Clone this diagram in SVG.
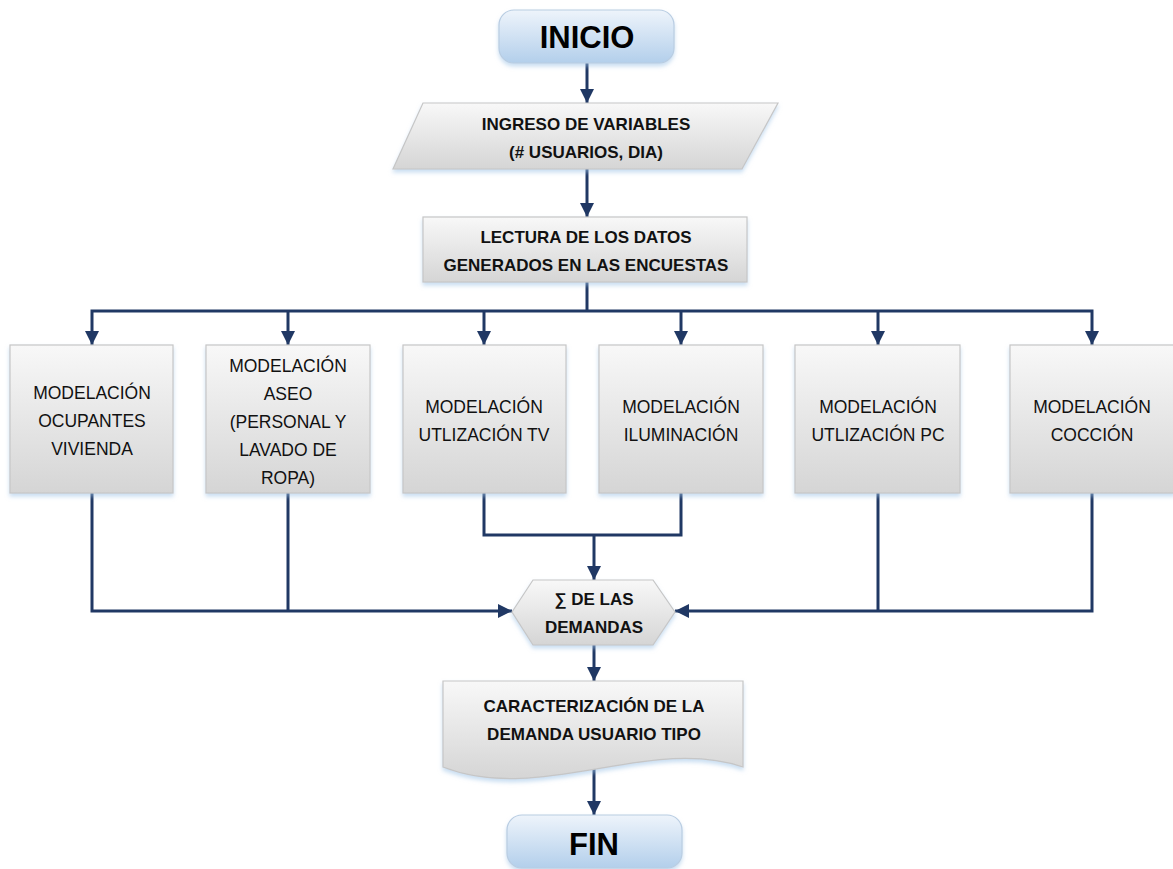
<svg xmlns="http://www.w3.org/2000/svg" width="1173" height="869" viewBox="0 0 1173 869">
  <style>
    .grey { fill: url(#gGrey); stroke: #c6c6c6; stroke-width: 1.2; filter: url(#shadow); }
    .term { fill: url(#gBlue); stroke: #b9cde2; stroke-width: 1.2; filter: url(#shadow); }
    .bold { font-family: "Liberation Sans", Arial, sans-serif; font-weight: bold; font-size: 17px; fill: #111; text-anchor: middle; }
    .reg { font-family: "Liberation Sans", Arial, sans-serif; font-size: 17.5px; fill: #111; text-anchor: middle; }
    .big { font-family: "Liberation Sans", Arial, sans-serif; font-weight: bold; font-size: 31px; fill: #000; text-anchor: middle; }
    .conn path { fill: none; stroke: #203864; stroke-width: 3; stroke-linejoin: miter; }
    .arr { marker-end: url(#head); }
  </style>
  <defs>
    <linearGradient id="gGrey" x1="0" y1="0" x2="0" y2="1">
      <stop offset="0" stop-color="#f8f8f8"/>
      <stop offset="1" stop-color="#d5d5d5"/>
    </linearGradient>
    <linearGradient id="gBlue" x1="0" y1="0" x2="0" y2="1">
      <stop offset="0" stop-color="#eef4fb"/>
      <stop offset="1" stop-color="#b3cfeb"/>
    </linearGradient>
    <filter id="shadow" x="-10%" y="-10%" width="120%" height="130%">
      <feDropShadow dx="0" dy="3" stdDeviation="2" flood-color="#9dc3e6" flood-opacity="0.55"/>
    </filter>
    <marker id="head" markerUnits="userSpaceOnUse" markerWidth="16" markerHeight="16" viewBox="0 0 16 16" refX="15" refY="8" orient="auto">
      <path d="M1 1 L15 8 L1 15 Z" fill="#203864"/>
    </marker>
  </defs>

  <!-- connectors -->
  <g id="connectors" class="conn">
    <path class="arr" d="M587 63 V103"/>
    <path class="arr" d="M587 169 V217"/>
    <path d="M587 282 V311"/>
    <path class="arr" d="M587 311 H92 V345"/>
    <path class="arr" d="M587 311 H1092 V345"/>
    <path class="arr" d="M288 311 V345"/>
    <path class="arr" d="M484 311 V345"/>
    <path class="arr" d="M681 311 V345"/>
    <path class="arr" d="M878 311 V345"/>
    <path class="arr" d="M92 493 V611 H512"/>
    <path d="M288 493 V611"/>
    <path d="M484 493 V535 H681 V493"/>
    <path class="arr" d="M594 535 V580"/>
    <path class="arr" d="M1092 493 V611 H675"/>
    <path d="M878 493 V611"/>
    <path class="arr" d="M594 645 V681"/>
    <path class="arr" d="M594 765 V815"/>
  </g>

  <g id="inicio">
    <rect class="term" x="499" y="10" width="175" height="53" rx="15"/>
    <text class="big" x="587" y="48">INICIO</text>
  </g>

  <g id="ingreso">
    <polygon class="grey" points="423,103 778,103 742,169 393,169"/>
    <text class="bold" x="586" y="130">INGRESO DE VARIABLES</text>
    <text class="bold" x="586" y="158">(# USUARIOS, DIA)</text>
  </g>

  <g id="lectura">
    <rect class="grey" x="423" y="217" width="324" height="65"/>
    <text class="bold" x="586" y="243">LECTURA DE LOS DATOS</text>
    <text class="bold" x="586" y="271">GENERADOS EN LAS ENCUESTAS</text>
  </g>

  <g id="ocupantes">
    <rect class="grey" x="10" y="345" width="163" height="148"/>
    <text class="reg" x="92" y="399">MODELACIÓN</text>
    <text class="reg" x="92" y="427">OCUPANTES</text>
    <text class="reg" x="92" y="455">VIVIENDA</text>
  </g>

  <g id="aseo">
    <rect class="grey" x="206" y="345" width="164" height="148"/>
    <text class="reg" x="288" y="372">MODELACIÓN</text>
    <text class="reg" x="288" y="400">ASEO</text>
    <text class="reg" x="288" y="428">(PERSONAL Y</text>
    <text class="reg" x="288" y="456">LAVADO DE</text>
    <text class="reg" x="288" y="484">ROPA)</text>
  </g>

  <g id="tv">
    <rect class="grey" x="403" y="345" width="163" height="148"/>
    <text class="reg" x="484" y="413">MODELACIÓN</text>
    <text class="reg" x="484" y="441">UTLIZACIÓN TV</text>
  </g>

  <g id="iluminacion">
    <rect class="grey" x="599" y="345" width="164" height="148"/>
    <text class="reg" x="681" y="413">MODELACIÓN</text>
    <text class="reg" x="681" y="441">ILUMINACIÓN</text>
  </g>

  <g id="pc">
    <rect class="grey" x="795" y="345" width="165" height="148"/>
    <text class="reg" x="878" y="413">MODELACIÓN</text>
    <text class="reg" x="878" y="441">UTLIZACIÓN PC</text>
  </g>

  <g id="coccion">
    <rect class="grey" x="1010" y="345" width="165" height="148"/>
    <text class="reg" x="1092" y="413">MODELACIÓN</text>
    <text class="reg" x="1092" y="441">COCCIÓN</text>
  </g>

  <g id="suma">
    <polygon class="grey" points="512,612 533,580 653,580 675,612 653,645 533,645"/>
    <text class="bold" x="594" y="605">∑ DE LAS</text>
    <text class="bold" x="594" y="633">DEMANDAS</text>
  </g>

  <g id="caracterizacion">
    <path class="grey" d="M443 681 H743 V767 C650 735 540 805 443 767 Z"/>
    <text class="bold" x="594" y="712">CARACTERIZACIÓN DE LA</text>
    <text class="bold" x="594" y="740">DEMANDA USUARIO TIPO</text>
  </g>

  <g id="fin">
    <rect class="term" x="507" y="815" width="175" height="53" rx="15"/>
    <text class="big" x="594" y="855">FIN</text>
  </g>
</svg>
